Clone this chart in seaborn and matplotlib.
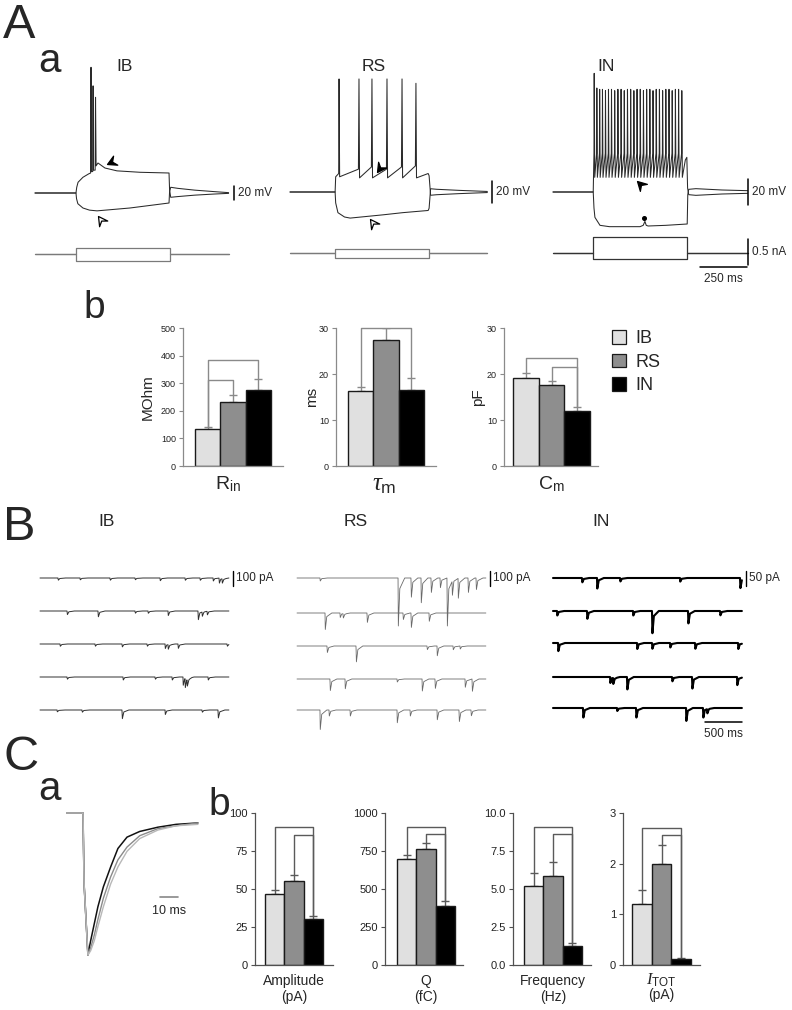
import numpy as np
import pandas as pd
import matplotlib
matplotlib.use("Agg")
import matplotlib.pyplot as plt
import seaborn as sns
from matplotlib.path import Path
from matplotlib.markers import MarkerStyle
from matplotlib.transforms import Affine2D
from matplotlib.patches import Patch

# === Data: cell classes and bar summaries (mean, sem) ===
cells = ["IB", "RS", "IN"]
bar_colors = ["#e0e0e0", "#8e8e8e", "#000000"]

rin_mean = [135, 232, 274]
rin_sem = [6, 25, 41]
tau_mean = [16.2, 27.5, 16.6]
tau_sem = [0.9, 2.4, 2.5]
cm_mean = [19.1, 17.6, 12.0]
cm_sem = [1.2, 0.8, 0.8]

amp_mean = [47, 55, 30]
amp_sem = [2.5, 4.5, 2.5]
q_mean = [695, 765, 385]
q_sem = [30, 35, 35]
freq_mean = [5.2, 5.85, 1.25]
freq_sem = [0.85, 0.9, 0.17]
itot_mean = [1.2, 2.0, 0.12]
itot_sem = [0.28, 0.37, 0.01]

# significance brackets (from bar, to bar, height)
rin_brackets = [(0, 2, 384), (0, 1, 312)]
tau_brackets = [(0, 2, 30)]
cm_brackets = [(0, 2, 23.5), (1, 2, 21.5)]
amp_brackets = [(0, 2, 90.8), (1, 2, 85.5)]
q_brackets = [(0, 2, 910), (1, 2, 862)]
freq_brackets = [(0, 2, 9.1), (1, 2, 8.6)]
itot_brackets = [(0, 2, 2.71), (1, 2, 2.57)]

# === Data: current-clamp responses (ms, mV) ===
ib_dep_t = [0, 218, 222, 229, 255, 287, 296, 298, 300, 307, 309, 311, 320, 322, 325, 335, 372, 436, 559, 713,
            716, 722, 760, 850, 950, 1030]
ib_dep_v = [0, 0, 8, 15, 22, 27, 28, 176, 30, 30, 150, 32, 32, 134, 38, 42, 35, 31, 29, 28,
            4, -6, -5, -3, -1.5, -0.5]
ib_hyp_t = [0, 218, 221, 228, 255, 290, 330, 505, 713, 716, 722, 760, 850, 950, 1030]
ib_hyp_v = [0, 0, -8, -15, -21, -24, -25, -21, -14, 2, 8, 6.5, 4, 2, 0.5]

rs_dep_t = [0, 240, 243, 259, 261, 264, 364, 367, 370, 433, 436, 439, 513, 516, 519, 593, 596, 599,
            667, 670, 673, 735, 740, 748, 780, 900, 1050]
rs_dep_v = [0, 0, 14, 17, 104, 14, 21, 104, 13, 23, 104, 13, 21, 104, 13, 23, 104, 13,
            24, 100, 13, 17, 15, -3, -2.5, -1.5, -0.5]
rs_hyp_t = [0, 240, 243, 255, 290, 320, 495, 600, 735, 740, 748, 780, 900, 1050]
rs_hyp_v = [0, 0, -10, -19, -23, -24, -21, -19, -17, -15, 3, 2.5, 1.5, 0.5]

in_spike_t = [218, 232, 247, 262, 278, 294, 310, 327, 344, 361, 378, 395, 412, 429, 446, 463, 480,
              497, 514, 531, 548, 565, 582, 599, 616, 633, 650, 667, 684]
in_spike_pk = [89, 78, 77, 77, 76, 77, 77, 76, 77, 77, 76, 77, 77, 76, 77, 77, 76, 77, 77, 76, 77,
               77, 76, 77, 77, 76, 77, 77, 76]
in_thr = 29
in_trough = 11
in_tail_t = [704, 712, 716, 722, 760, 900, 1035]
in_tail_v = [24, 26, 3, -2, -2.5, -1.5, -1]
in_hyp_t = [0, 214, 218, 223, 250, 300, 463, 480, 489, 496, 506, 600, 714, 717, 722, 760, 900, 1035]
in_hyp_v = [0, 0, -12, -19, -25, -26, -26, -25, -22, -25, -25.5, -25, -24, -2, 2, 2.5, 1.5, 1]

# current steps (nA): onset, offset, depolarising, hyperpolarising, trace end
ib_step = (218, 718, 0.12, -0.13, 1030)
rs_step = (240, 740, 0.08, -0.10, 1050)
in_step = (214, 714, 0.31, -0.12, 1035)

# === Data: spontaneous EPSCs (event time ms, amplitude pA), five sweeps per cell ===
ib_ev_t = [[243, 540, 945, 1283, 1620, 1958, 2160, 2336, 2417, 2457],
           [365, 783, 1283, 1458, 1728, 2133, 2187, 2255],
           [270, 743, 1107, 1445, 1688, 1728, 1863, 2525],
           [365, 1120, 1553, 1782, 1930, 1958, 1985, 2268],
           [230, 567, 1107, 1688, 2187, 2403]]
ib_ev_a = [[15, 12, 15, 12, 18, 15, 15, 20, 35, 30],
           [25, 40, 15, 15, 30, 60, 30, 25],
           [15, 15, 20, 15, 30, 30, 30, 15],
           [15, 20, 15, 20, 55, 60, 45, 20],
           [12, 15, 60, 30, 15, 55]]
rs_ev_t = [[310, 1364, 1539, 1674, 1809, 1931, 2025, 2093, 2174, 2309, 2417],
           [378, 580, 621, 945, 1431, 1539, 1782],
           [405, 797, 1755, 1890, 2106, 2200],
           [445, 648, 1350, 1688, 1863, 2268, 2363],
           [310, 432, 716, 1350, 1526, 1890, 2187, 2349]]
rs_ev_a = [[20, 320, 133, 165, 100, 67, 333, 100, 133, 100, 80],
           [110, 30, 30, 65, 45, 100, 55],
           [45, 110, 25, 65, 25, 20],
           [80, 65, 20, 80, 65, 55, 85],
           [130, 40, 40, 85, 40, 65, 80, 40]]
in_ev_t = [[391, 594, 905, 1714, 2525],
           [54, 459, 1080, 1337, 1823, 2255],
           [68, 1134, 1337, 1580, 1917, 2498],
           [770, 810, 999, 1607, 1877, 2484],
           [405, 864, 1121, 1796, 2025, 2079]]
in_ev_a = [[15, 35, 12, 12, 35],
           [15, 27, 15, 77, 43, 15],
           [27, 20, 20, 15, 20, 20],
           [20, 20, 43, 15, 40, 27],
           [33, 10, 33, 43, 33, 15]]
sweep_ms = 2550

# === Data: averaged normalised EPSCs (ms, normalised current) ===
epsc_t = [0, 8.8, 9.4, 11.5, 13, 15, 17, 20, 24, 28, 33, 40, 50, 60, 72]
epsc_ib = [0, 0, -0.5, -1.0, -0.95, -0.86, -0.75, -0.60, -0.45, -0.33, -0.24, -0.16, -0.11, -0.09, -0.07]
epsc_rs = [0, 0, -0.5, -1.0, -0.97, -0.90, -0.80, -0.66, -0.50, -0.38, -0.27, -0.18, -0.12, -0.09, -0.08]
epsc_in = [0, 0, -0.5, -1.0, -0.90, -0.78, -0.66, -0.52, -0.38, -0.25, -0.17, -0.13, -0.10, -0.08, -0.07]

# === Settings ===
sns.set_style("ticks")
plt.rcParams["font.family"] = ["Liberation Sans", "DejaVu Sans"]
plt.rcParams["mathtext.fontset"] = "custom"
plt.rcParams["mathtext.rm"] = "Liberation Sans"
plt.rcParams["mathtext.it"] = "Liberation Serif:italic"

W, H = 792, 1010
fig = plt.figure(figsize=(W / 100, H / 100), dpi=100)


def px_axes(x0, y0, x1, y1):
    return fig.add_axes([x0 / W, 1 - y1 / H, (x1 - x0) / W, (y1 - y0) / H])


def ptext(x, y, s, **kw):
    return fig.text(x / W, 1 - y / H, s, **kw)


def trace_axes(box, origin, xs, ys):
    # axes whose data origin sits at pixel `origin`, with xs / ys units per pixel
    x0, y0, x1, y1 = box
    ox, oy = origin
    ax = px_axes(x0, y0, x1, y1)
    ax.set_xlim((x0 - ox) * xs, (x1 - ox) * xs)
    ax.set_ylim((oy - y1) * ys, (oy - y0) * ys)
    ax.axis("off")
    return ax


# chevron arrowhead marker, tip at the data point
chev = Path([(0, 0), (-1, 0.55), (-0.62, 0), (-1, -0.55), (0, 0)],
            [Path.MOVETO, Path.LINETO, Path.LINETO, Path.LINETO, Path.CLOSEPOLY])


def arrowhead(ax, t, v, angle, filled=True):
    m = MarkerStyle(chev, transform=Affine2D().rotate_deg(angle))
    ax.plot([t], [v], marker=m, markersize=13, markerfacecolor="black" if filled else "white",
            markeredgecolor="black", markeredgewidth=0.9, linestyle="none", clip_on=False)


def step_trace(step):
    on, off, up, down, end = step
    t = [0, on, on, off, off, end]
    return t, [0, 0, up, up, 0, 0], [0, 0, down, down, 0, 0]


# === Panel A a: firing patterns ===
MS_PX = 5.32
NA_PX = 0.0192
cell_layout = {
    "IB": dict(x0=35, base=193, mv=1.4, stim=254, lab=125, sb=199),
    "RS": dict(x0=290, base=192, mv=0.92, stim=253, lab=374, sb=202),
    "IN": dict(x0=553, base=192, mv=0.75, stim=253, lab=606, sb=195),
}

in_dep_t = [0, 214, 216]
in_dep_v = [0, 0, 15]
for t, pk in zip(in_spike_t, in_spike_pk):
    in_dep_t += [t, t + 1.2, t + 4]
    in_dep_v += [in_thr, pk, in_trough]
in_dep_t += in_tail_t
in_dep_v += in_tail_v

vtraces = {"IB": (ib_dep_t, ib_dep_v, ib_hyp_t, ib_hyp_v, ib_step),
           "RS": (rs_dep_t, rs_dep_v, rs_hyp_t, rs_hyp_v, rs_step),
           "IN": (in_dep_t, in_dep_v, in_hyp_t, in_hyp_v, in_step)}

vax = {}
for name, L in cell_layout.items():
    dep_t, dep_v, hyp_t, hyp_v, step = vtraces[name]
    ax = trace_axes((L["x0"] - 5, 40, L["x0"] + 235, 232), (L["x0"], L["base"]), MS_PX, L["mv"])
    ax.plot(dep_t, dep_v, color="#2a2a2a", lw=0.75, clip_on=False)
    ax.plot(hyp_t, hyp_v, color="#2a2a2a", lw=0.75, clip_on=False)
    vax[name] = ax
    # scale bar 20 mV
    sb_t = L["sb"] * MS_PX
    ax.plot([sb_t, sb_t], [-10, 10], color="black", lw=1.1, clip_on=False)
    ax.text(sb_t + 4 * MS_PX, 0, "20 mV", fontsize=8.5, va="center", ha="left")
    ptext(L["lab"], 66, name, fontsize=12.5, ha="center", va="center")

    sax = trace_axes((L["x0"] - 5, 232, L["x0"] + 235, 285), (L["x0"], L["stim"]), MS_PX, NA_PX)
    st, sup, sdn = step_trace(step)
    scol = "#333333" if name == "IN" else "#7a7a7a"
    sax.plot(st, sup, color=scol, lw=0.9, clip_on=False)
    sax.plot(st, sdn, color=scol, lw=0.9, clip_on=False)
    if name == "IN":
        sax.plot([1037, 1037], [-0.23, 0.27], color="black", lw=1.1, clip_on=False)
        sax.text(1058, 0.02, "0.5 nA", fontsize=8.5, va="center", ha="left")
        sax.plot([782, 1032], [-0.27, -0.27], color="black", lw=1.1, clip_on=False)
        sax.text(907, -0.5, "250 ms", fontsize=8.5, va="center", ha="center")

arrowhead(vax["IB"], 385, 40, 205, True)
arrowhead(vax["IB"], 337, -32, 125, False)
arrowhead(vax["RS"], 465, 18.7, 235, True)
arrowhead(vax["RS"], 426, -25, 125, False)
arrowhead(vax["IN"], 449, 8.5, 135, True)
vax["IN"].plot([484], [-19.5], "o", color="black", markersize=2.6)


# === Panel A b: passive properties ===
def bar_panel(layout, means, sems, brackets, ylim, yticks, yticklabels, tick_fs,
              spine_col, br_col):
    spine, bl, br, end, top, bot = layout
    unit = (br - bl) / 3
    ax = px_axes(spine, top, end, bot)
    df = pd.DataFrame({"cell": cells, "value": means})
    sns.barplot(data=df, x="cell", y="value", hue="cell", palette=bar_colors, width=1.0,
                edgecolor="#1a1a1a", linewidth=1.0, legend=False, errorbar=None, ax=ax)
    ax.errorbar(range(3), means, yerr=[np.zeros(3), sems], fmt="none", ecolor=br_col,
                elinewidth=1.0, capsize=3.2, capthick=1.0, zorder=0.5)
    tops = [m + s for m, s in zip(means, sems)]
    for i, j, h in brackets:
        ax.plot([i, i, j, j], [tops[i], h, h, tops[j]], color=br_col, lw=1.0,
                clip_on=False, zorder=0.4)
    ax.set_xlim(-0.5 - (bl - spine) / unit, 2.5 + (end - br) / unit)
    ax.set_ylim(*ylim)
    ax.set_yticks(yticks)
    ax.set_yticklabels(yticklabels)
    ax.set_xticks([])
    ax.set_xlabel("")
    ax.set_ylabel("")
    sns.despine(ax=ax)
    for s in ["left", "bottom"]:
        ax.spines[s].set_color(spine_col)
        ax.spines[s].set_linewidth(0.9)
    ax.tick_params(axis="y", length=3, width=0.8, color=spine_col, labelsize=tick_fs,
                   labelcolor="#222222", pad=2)
    return ax


ab_col, ab_br = "#8a8a8a", "#8a8a8a"
bar_panel((183, 195, 271, 283, 328, 466), rin_mean, rin_sem, rin_brackets, (0, 500),
          [0, 100, 200, 300, 400, 500], ["0", "100", "200", "300", "400", "500"], 6.5, ab_col, ab_br)
bar_panel((336, 348, 424, 436, 328, 466), tau_mean, tau_sem, tau_brackets, (0, 30),
          [0, 10, 20, 30], ["0", "10", "20", "30"], 6.5, ab_col, ab_br)
bar_panel((504, 513, 590, 598, 328, 466), cm_mean, cm_sem, cm_brackets, (0, 30),
          [0, 10, 20, 30], ["0", "10", "20", "30"], 6.5, ab_col, ab_br)

ptext(148, 397, "MOhm", fontsize=11, rotation=90, ha="center", va="center")
ptext(312, 397, "ms", fontsize=11, rotation=90, ha="center", va="center")
ptext(478, 397, "pF", fontsize=11, rotation=90, ha="center", va="center")
ptext(228, 484, r"R$_{\mathrm{in}}$", fontsize=14, ha="center", va="center")
ptext(384, 484, r"$\tau_{\mathrm{m}}$", fontsize=18, ha="center", va="center")
ptext(551, 484, r"C$_{\mathrm{m}}$", fontsize=14, ha="center", va="center")

handles = [Patch(facecolor=c, edgecolor="#1a1a1a", linewidth=0.9) for c in bar_colors]
fig.legend(handles, cells, loc="upper left", bbox_to_anchor=(612 / W, 1 - 330 / H),
           frameon=False, fontsize=13, handlelength=0.8, handleheight=0.8,
           handletextpad=0.5, labelspacing=0.35, borderpad=0, borderaxespad=0)

# === Panel B: spontaneous EPSCs ===
ev_grid = np.arange(0, sweep_ms + 1, 2.0)
B_MS_PX = 13.5
b_layout = {
    "IB": dict(x0=40, pa=6.67, rows=[578, 611, 644, 677, 710], col="#303030", lw=0.7,
               ev=(ib_ev_t, ib_ev_a), bar=100, lab=107),
    "RS": dict(x0=297, pa=6.67, rows=[578, 613, 646, 679, 710], col="#6a6a6a", lw=0.6,
               ev=(rs_ev_t, rs_ev_a), bar=100, lab=356),
    "IN": dict(x0=553, pa=3.33, rows=[578, 611, 643, 677, 708], col="#000000", lw=1.5,
               ev=(in_ev_t, in_ev_a), bar=50, lab=601),
}
for name, L in b_layout.items():
    ax = trace_axes((L["x0"] - 5, 555, L["x0"] + 240, 745), (L["x0"], L["rows"][0]), B_MS_PX, L["pa"])
    ev_t, ev_a = L["ev"]
    for k, ry in enumerate(L["rows"]):
        off = -(ry - L["rows"][0]) * L["pa"]
        trace = np.zeros_like(ev_grid)
        for t, a in zip(ev_t[k], ev_a[k]):
            trace += np.interp(ev_grid, [t, t + 4, t + 24, t + 90], [0, -a, -0.22 * a, 0],
                               left=0, right=0)
        ax.plot(ev_grid, trace + off, color=L["col"], lw=L["lw"], clip_on=False)
    sb_t = sweep_ms + 4 * B_MS_PX
    half = 7.5 * L["pa"]
    ax.plot([sb_t, sb_t], [-half, half], color="black", lw=1.0, clip_on=False)
    ax.text(sb_t + 3 * B_MS_PX, 0, f"{L['bar']} pA", fontsize=8.5, va="center", ha="left")
    if name == "IN":
        y500 = -(722 - L["rows"][0]) * L["pa"]
        ax.plot([sweep_ms - 500, sweep_ms], [y500, y500], color="black", lw=1.1, clip_on=False)
        ax.text(sweep_ms - 250, y500 - 12 * L["pa"], "500 ms", fontsize=8.5, ha="center", va="center")
    ptext(L["lab"], 522, name, fontsize=12.5, ha="center", va="center")

# === Panel C a: normalised EPSCs ===
cax = trace_axes((60, 798, 210, 962), (67, 813), 0.55, 1 / 142)
cax.plot(epsc_t, epsc_in, color="#111111", lw=1.1, clip_on=False)
cax.plot(epsc_t, epsc_ib, color="#8a8a8a", lw=1.0, clip_on=False)
cax.plot(epsc_t, epsc_rs, color="#b8b8b8", lw=1.0, clip_on=False)
cax.plot([51, 61], [-0.59, -0.59], color="#888888", lw=1.2)
cax.text(56, -0.69, "10 ms", fontsize=9, ha="center", va="center")

# === Panel C b: EPSC properties ===
cb_col, cb_br = "#505050", "#5a5a5a"
bar_panel((255, 265, 323, 333, 813, 965), amp_mean, amp_sem, amp_brackets, (0, 100),
          [0, 25, 50, 75, 100], ["0", "25", "50", "75", "100"], 8, cb_col, cb_br)
bar_panel((385, 397, 455, 463, 813, 965), q_mean, q_sem, q_brackets, (0, 1000),
          [0, 250, 500, 750, 1000], ["0", "250", "500", "750", "1000"], 8, cb_col, cb_br)
bar_panel((513, 524, 582, 591, 813, 965), freq_mean, freq_sem, freq_brackets, (0, 10),
          [0, 2.5, 5, 7.5, 10], ["0.0", "2.5", "5.0", "7.5", "10.0"], 8, cb_col, cb_br)
bar_panel((623, 632, 691, 700, 813, 965), itot_mean, itot_sem, itot_brackets, (0, 3),
          [0, 1, 2, 3], ["0", "1", "2", "3"], 8, cb_col, cb_br)

for x, s in [(294, "Amplitude\n(pA)"), (426, "Q\n(fC)"), (553, "Frequency\n(Hz)")]:
    ptext(x, 974, s, fontsize=10, ha="center", va="top", linespacing=1.15)
ptext(661, 972, r"$I_{\mathrm{TOT}}$", fontsize=12, ha="center", va="top")
ptext(661, 988, "(pA)", fontsize=10, ha="center", va="top")

# === Panel letters ===
ptext(3, 38, "A", fontsize=35, ha="left", va="baseline")
ptext(38, 72, "a", fontsize=29, ha="left", va="baseline")
ptext(83, 318, "b", fontsize=28, ha="left", va="baseline")
ptext(3, 540, "B", fontsize=35, ha="left", va="baseline")
ptext(3, 770, "C", fontsize=35, ha="left", va="baseline")
ptext(38, 800, "a", fontsize=29, ha="left", va="baseline")
ptext(208, 815, "b", fontsize=28, ha="left", va="baseline")

fig.savefig("out.png", dpi=100)
print("Plot saved.")
